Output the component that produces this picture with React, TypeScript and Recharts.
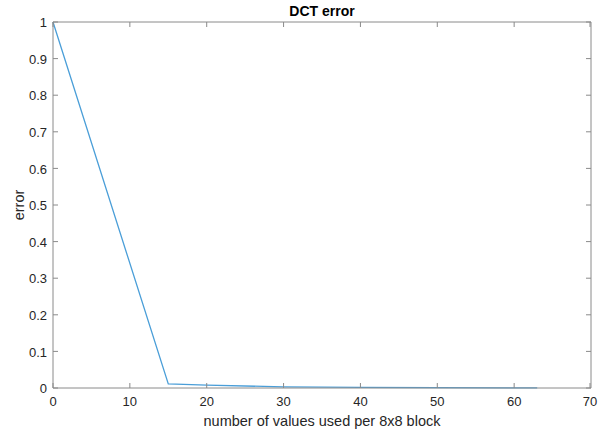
import { LineChart, Line, XAxis, YAxis, Label, ReferenceLine } from "recharts";

// number of DCT coefficients kept per 8x8 block
const coeffsKept = [0, 15, 20, 30, 40, 50, 63];
// relative error
const errorValues = [1, 0.011, 0.008, 0.003, 0.0015, 0.001, 0.0003];

const xTicks = [0, 10, 20, 30, 40, 50, 60, 70];
const yTicks = [0, 0.1, 0.2, 0.3, 0.4, 0.5, 0.6, 0.7, 0.8, 0.9, 1];

const data = coeffsKept.map((n, i) => ({ n, err: errorValues[i] }));

const font = "'Liberation Sans', Arial, Helvetica, sans-serif";
const axisGray = "#8a8a8a";
const textColor = "#262626";

// plot box edges (chart margin + axis sizes)
const PLOT_TOP = 22;
const PLOT_BOTTOM = 388;
const PLOT_LEFT = 53;
const PLOT_RIGHT = 591;
const TICK_LEN = 5;

// label below, inward tick marks at bottom and top
const XTick = (props: any) => {
  const { x, y, payload } = props;
  return (
    <g>
      <line x1={x} x2={x} y1={PLOT_BOTTOM} y2={PLOT_BOTTOM - TICK_LEN} stroke={axisGray} />
      <line x1={x} x2={x} y1={PLOT_TOP} y2={PLOT_TOP + TICK_LEN} stroke={axisGray} />
      <text x={x} y={y} dy="0.71em" textAnchor="middle" fill={textColor} fontSize={13} fontFamily={font}>
        {payload.value}
      </text>
    </g>
  );
};

// label on the left, inward tick marks at left and right
const YTick = (props: any) => {
  const { x, y, payload } = props;
  return (
    <g>
      <line x1={PLOT_LEFT} x2={PLOT_LEFT + TICK_LEN} y1={y} y2={y} stroke={axisGray} />
      <line x1={PLOT_RIGHT} x2={PLOT_RIGHT - TICK_LEN} y1={y} y2={y} stroke={axisGray} />
      <text x={x} y={y} dy="0.4em" textAnchor="end" fill={textColor} fontSize={13} fontFamily={font}>
        {payload.value}
      </text>
    </g>
  );
};

export default function App() {
  return (
    <div style={{ position: "relative", width: 598, height: 431, fontFamily: font }}>
      <style>{`body{margin:0;background:#fff}`}</style>
      <div
        style={{
          position: "absolute",
          top: 3,
          left: PLOT_LEFT,
          width: PLOT_RIGHT - PLOT_LEFT,
          textAlign: "center",
          fontWeight: "bold",
          fontSize: 14,
          lineHeight: "16px",
          color: "#000",
        }}
      >
        DCT error
      </div>
      <LineChart
        width={598}
        height={431}
        data={data}
        margin={{ top: PLOT_TOP, right: 598 - PLOT_RIGHT, left: 0, bottom: 0 }}
      >
        <XAxis
          dataKey="n"
          type="number"
          domain={[0, 70]}
          ticks={xTicks}
          height={431 - PLOT_BOTTOM}
          tickSize={7}
          tickMargin={2}
          tickLine={false}
          axisLine={{ stroke: axisGray }}
          tick={<XTick />}
        >
          <Label
            value="number of values used per 8x8 block"
            position="insideBottom"
            offset={5}
            style={{ fill: textColor, fontSize: 14.5, fontFamily: font }}
          />
        </XAxis>
        <YAxis
          type="number"
          domain={[0, 1]}
          ticks={yTicks}
          width={PLOT_LEFT}
          tickSize={4}
          tickMargin={2}
          tickLine={false}
          axisLine={{ stroke: axisGray }}
          tick={<YTick />}
        >
          <Label
            value="error"
            angle={-90}
            position="insideLeft"
            offset={19}
            style={{ textAnchor: "middle", fill: textColor, fontSize: 14.5, fontFamily: font }}
          />
        </YAxis>

        {/* box: top and right edges */}
        <ReferenceLine y={1} stroke={axisGray} />
        <ReferenceLine x={70} stroke={axisGray} />

        <Line
          type="linear"
          dataKey="err"
          stroke="#4a9ed8"
          strokeWidth={1.3}
          dot={false}
          isAnimationActive={false}
        />
      </LineChart>
    </div>
  );
}
